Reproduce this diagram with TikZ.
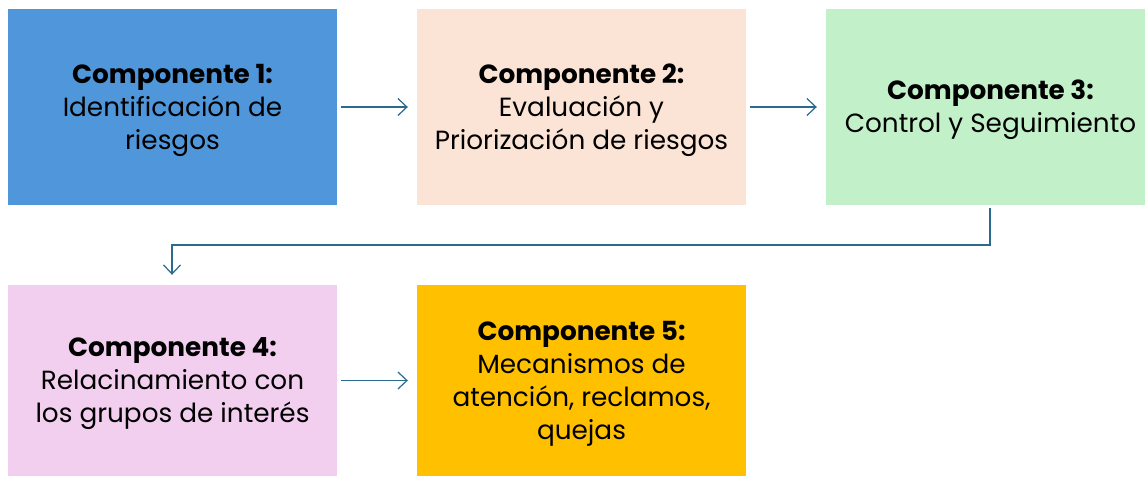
\documentclass[tikz,border=0pt]{standalone}
\usepackage{fontspec}
\setmainfont{Poppins}
\usetikzlibrary{arrows.meta}
\definecolor{c1}{HTML}{4F96DA}
\definecolor{c2}{HTML}{FBE3D6}
\definecolor{c3}{HTML}{C2F0C8}
\definecolor{c4}{HTML}{F2CEEF}
\definecolor{c5}{HTML}{FFC000}
\definecolor{arr}{HTML}{2A6A8E}
\tikzset{
  box/.style={inner sep=0pt, minimum width=329pt},
  txt/.style={inner sep=0pt, align=center, text=black, yshift=-3pt,
    font=\fontsize{26.3}{33}\selectfont},
  conn/.style={draw=arr, line width=1.2pt, -{Straight Barb[length=9pt,width=17pt,line width=1.2pt]}}
}
\begin{document}
\begin{tikzpicture}[x=1pt,y=-1pt]
\useasboundingbox (0,0) rectangle (1145,477);
\fill[white] (0,0) rectangle (1145,477);
\node[box, fill=c1, minimum height=196pt] (b1) at (172.5,107) {};
\node[box, fill=c2, minimum height=196pt] (b2) at (581.5,107) {};
\node[box, fill=c3, minimum height=196pt] (b3) at (990.5,107) {};
\node[box, fill=c4, minimum height=191pt] (b4) at (172.5,380.5) {};
\node[box, fill=c5, minimum height=191pt] (b5) at (581.5,380.5) {};
\node[txt] (t1x) at (b1.center) {\textbf{Componente 1:}\\Identificación de\\riesgos};
\node[txt] (t2x) at (b2.center) {\textbf{Componente 2:}\\Evaluación y\\Priorización de riesgos};
\node[txt] (t3x) at (b3.center) {\textbf{Componente 3:}\\Control y Seguimiento};
\node[txt] (t4x) at (b4.center) {\textbf{Componente 4:}\\Relacinamiento con\\los grupos de interés};
\node[txt] (t5x) at (b5.center) {\textbf{Componente 5:}\\Mecanismos de\\atención, reclamos,\\quejas};
\coordinate (t1) at (990,245);
\coordinate (t2) at (172,245);
\draw[conn, shorten <=4pt, shorten >=9pt] (b1.east) -- (b2.west);
\draw[conn, shorten <=4pt, shorten >=9pt] (b2.east) -- (b3.west);
\draw[conn, shorten <=3pt, shorten >=10pt] (b3.south -| t1) -- (t1) -- (t2) -- (b4.north -| t2);
\draw[conn, shorten <=4pt, shorten >=9pt] (b4.east) -- (b5.west);
\end{tikzpicture}
\end{document}
